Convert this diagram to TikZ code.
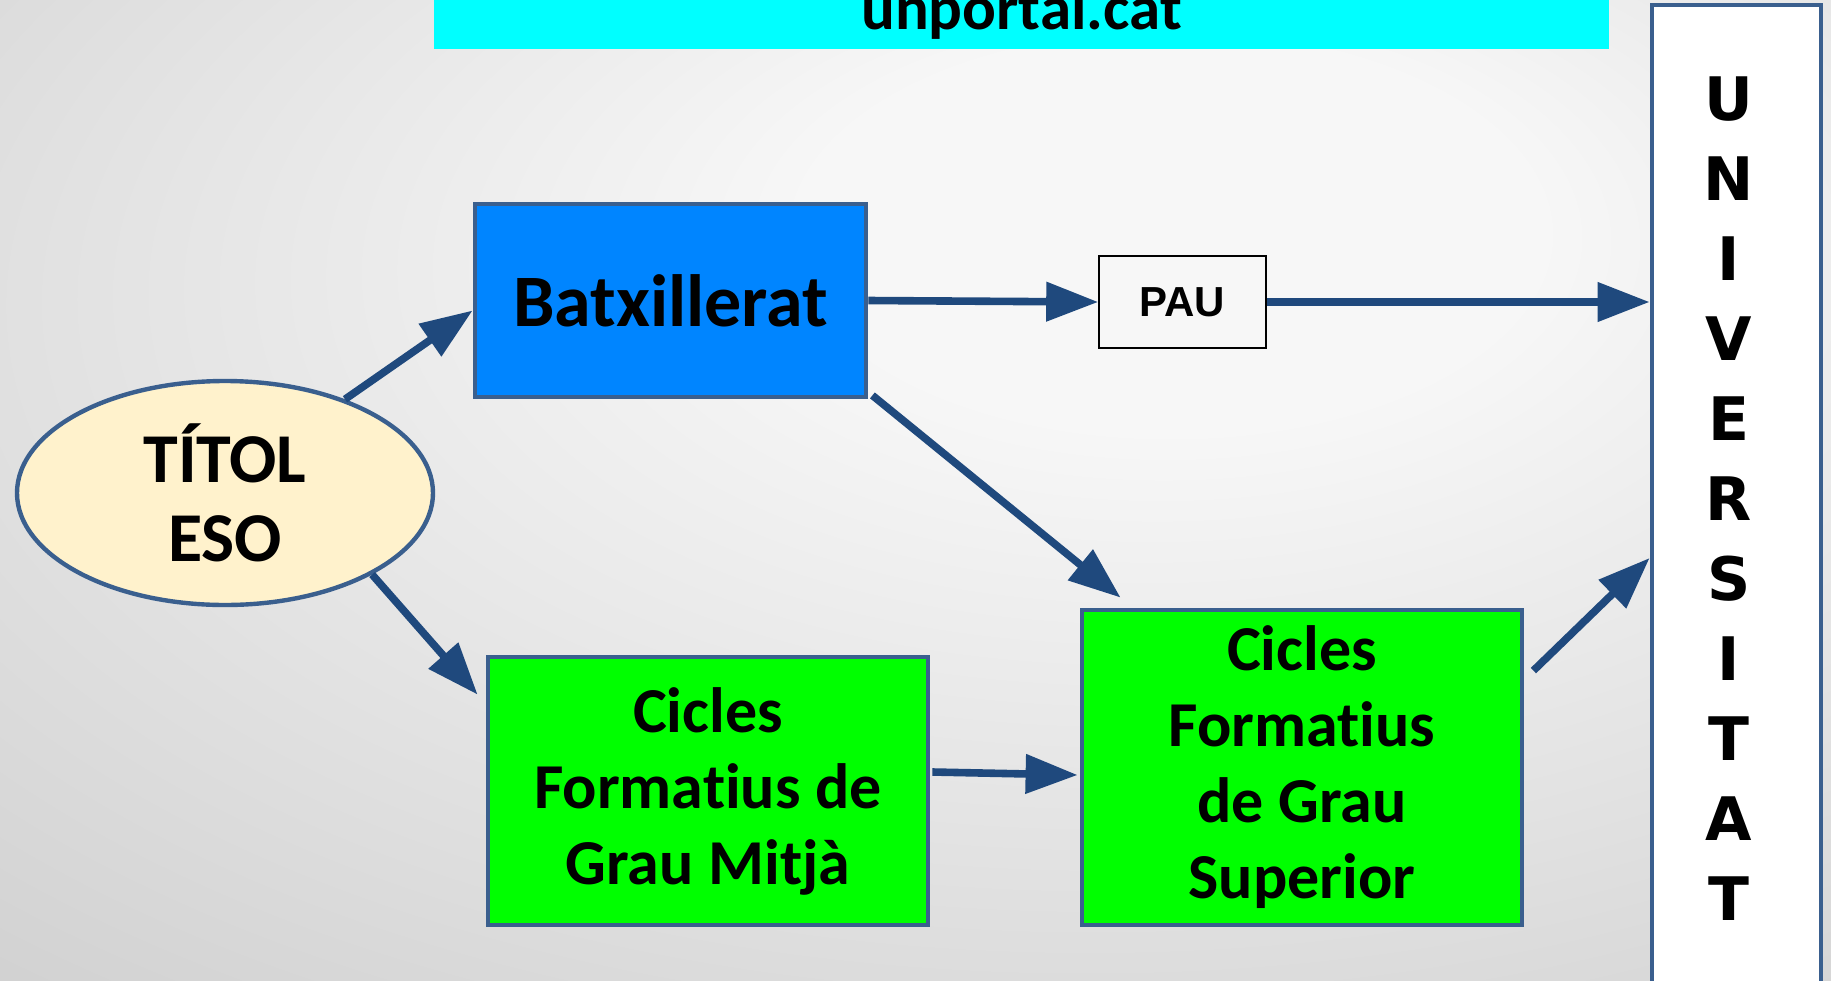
\documentclass[tikz,border=0pt]{standalone}
\usepackage{fontspec}
\setmainfont[Ligatures=NoCommon]{Carlito}
\newfontfamily\paufont{Liberation Sans}
\newfontfamily\univfont{DejaVu Sans}
\usetikzlibrary{arrows.meta,shapes.geometric,calc}
\definecolor{bgin}{RGB}{247,247,247}
\definecolor{bgout}{RGB}{196,196,196}
\definecolor{edgeblue}{RGB}{58,95,142}
\definecolor{arrowblue}{RGB}{31,73,125}
\definecolor{batxblue}{RGB}{0,133,255}
\definecolor{cycgreen}{RGB}{0,255,0}
\definecolor{titolfill}{RGB}{255,242,204}
\definecolor{bannercyan}{RGB}{0,255,255}
\pgfdeclareradialshading{bgshade}{\pgfpoint{8bp}{15bp}}{color(0bp)=(bgin); color(10bp)=(bgin); color(55bp)=(bgout); color(80bp)=(bgout!92!black)}
\begin{document}
\begin{tikzpicture}[x=0.5pt,y=-0.5pt,
  box/.style={draw=edgeblue, line width=2.4pt, rectangle, align=center, inner sep=0pt, font=\bfseries},
  arr/.style={draw=arrowblue, line width=3.8pt, -{Triangle[length=26pt,width=19pt]}}]
\useasboundingbox (0,0) rectangle (1831,980);
\shade[shading=bgshade] (0,0) rectangle (1831,980);
% banner
\node[fill=bannercyan, minimum width=587.5pt, minimum height=37pt, inner sep=0pt,
      font=\bfseries\fontsize{31.5}{36}\selectfont] (banner) at (1021.5,12) {unportal.cat};
% universitat
\node[draw=edgeblue, fill=white, line width=2.4pt, minimum width=84.5pt, minimum height=502.5pt, inner sep=0pt] (univ) at (1736.5,507.5) {};
\node[font=\univfont\bfseries\fontsize{30}{40}\selectfont, align=center, inner sep=0pt] (univtext) at (1729,499) {U\\N\\I\\V\\E\\R\\S\\I\\T\\A\\T};
% nodes
\node[ellipse, draw=edgeblue, fill=titolfill, line width=2.2pt, minimum width=208pt, minimum height=112pt, inner sep=0pt, align=center,
      font=\bfseries\fontsize{35}{39.5}\selectfont] (titol) at (225,493) {TÍTOL\\ESO};
\node[box, fill=batxblue, minimum width=195.5pt, minimum height=96.5pt, font=\bfseries\fontsize{37}{43}\selectfont] (batx) at (670.5,300.5) {Batxillerat};
\node[draw=black, line width=0.8pt, minimum width=83.5pt, minimum height=46pt, inner sep=0pt,
      font=\paufont\bfseries\fontsize{21}{25}\selectfont] (pau) at (1182.5,302) {PAU};
\node[box, fill=cycgreen, minimum width=220pt, minimum height=134pt, font=\bfseries\fontsize{32}{38}\selectfont] (mitja) at (708,791) {Cicles\\Formatius de\\Grau Mitjà};
\node[box, fill=cycgreen, minimum width=220pt, minimum height=157.5pt, font=\bfseries\fontsize{32}{38}\selectfont] (sup) at (1302,767.5) {Cicles\\Formatius\\de Grau\\Superior};
% arrows
\draw[arr] (titol.38.7) -- ($(batx.west)+(0,10)$);
\draw[arr] (batx.east) -- (pau.west);
\draw[arr] (pau.east) -- (pau.east -| univ.west);
\draw[arr] ($(batx.south east)+(4,-4)$) -- ($(sup.north west)+(41,-10)$);
\draw[arr] (titol.-29.5) -- ($(mitja.north west)+(-8,40)$);
\draw[arr] ($(mitja.east)+(2,-19)$) -- ($(sup.west)+(-2,7.5)$);
\draw[arr] ($(sup.north east)+(9,63)$) -- ($(univ.west)+(0,50.5)$);
\end{tikzpicture}
\end{document}
